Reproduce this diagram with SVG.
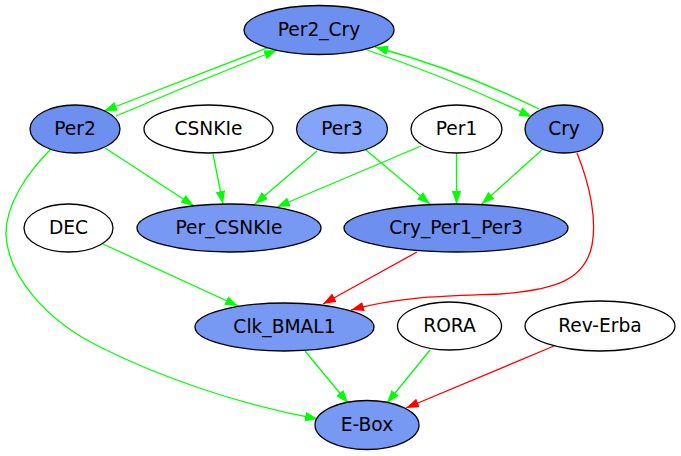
<svg xmlns="http://www.w3.org/2000/svg" width="681" height="456" viewBox="0 0 681 456">
<style>
.n ellipse{stroke:#000;stroke-width:1.3}
.w{fill:#fff}
.d{fill:#6d8ff0}
.l{fill:#84a4f9}
.m{fill:#7799f4}
text{font-family:"DejaVu Sans","Liberation Sans",sans-serif;font-size:18.67px;text-anchor:middle;fill:#000}
.g{stroke:#00ff00;stroke-width:1.3;fill:none}
.r{stroke:#ff0000;stroke-width:1.3;fill:none}
.g{marker-end:url(#ag)}
.r{marker-end:url(#ar)}
</style>
<defs>
<marker id="ag" markerUnits="userSpaceOnUse" markerWidth="14" markerHeight="10" refX="13" refY="4.7" orient="auto" viewBox="0 0 14 10">
<path d="M0,0 L13,4.7 L0,9.4 Z" fill="#00ff00"/>
</marker>
<marker id="ar" markerUnits="userSpaceOnUse" markerWidth="14" markerHeight="10" refX="13" refY="4.7" orient="auto" viewBox="0 0 14 10">
<path d="M0,0 L13,4.7 L0,9.4 Z" fill="#ff0000"/>
</marker>
</defs>
<rect width="681" height="456" fill="#fff"/>
<g id="edges">
<path class="g" d="M267,48 Q185,80 104,111"/>
<path class="g" d="M116,116 Q196,82 277,50"/>
<path class="g" d="M367,50 Q450,78 532,117"/>
<path class="g" d="M539,109 Q460,70 375,47"/>
<path class="g" d="M105,148 L194,206"/>
<path class="g" d="M213,154 L223,204"/>
<path class="g" d="M317,151 L255,204"/>
<path class="g" d="M421,146 L277,207"/>
<path class="g" d="M366,150 L430,204"/>
<path class="g" d="M456.5,153 L456.5,204"/>
<path class="g" d="M541.7,150 L481.7,204"/>
<path class="r" d="M577,153 C590,185 597,220 592,245 C585,280 555,290 500,294 C450,296 400,296 351,310"/>
<path class="r" d="M417,252 L323,304"/>
<path class="g" d="M103,244 L238,306"/>
<path class="g" d="M50,150 C28,172 5,205 6,235 C8,275 45,320 100,347 C160,377 240,405 318,419"/>
<path class="g" d="M305,351 L348,403"/>
<path class="g" d="M430,350 L387,403"/>
<path class="r" d="M554,346 L406,408"/>
</g>
<g id="Per2_Cry" class="n"><ellipse class="d" cx="319" cy="30" rx="75" ry="24.5"/><text x="319" y="36">Per2_Cry</text></g>
<g id="Per2" class="n"><ellipse class="d" cx="75" cy="129" rx="45" ry="24"/><text x="75" y="135">Per2</text></g>
<g id="CSNKIe" class="n"><ellipse class="w" cx="208.5" cy="129" rx="64.5" ry="24"/><text x="208.5" y="135">CSNKIe</text></g>
<g id="Per3" class="n"><ellipse class="l" cx="342" cy="129" rx="45.5" ry="24"/><text x="342" y="135">Per3</text></g>
<g id="Per1" class="n"><ellipse class="w" cx="456.5" cy="129" rx="45.5" ry="24"/><text x="456.5" y="135">Per1</text></g>
<g id="Cry" class="n"><ellipse class="d" cx="564" cy="129" rx="39" ry="24"/><text x="564" y="135">Cry</text></g>
<g id="DEC" class="n"><ellipse class="w" cx="68.5" cy="228" rx="44.5" ry="24"/><text x="68.5" y="234">DEC</text></g>
<g id="Per_CSNKIe" class="n"><ellipse class="m" cx="229" cy="228" rx="92" ry="24"/><text x="229" y="234">Per_CSNKIe</text></g>
<g id="Cry_Per1_Per3" class="n"><ellipse class="d" cx="456" cy="228" rx="112" ry="24"/><text x="456" y="234">Cry_Per1_Per3</text></g>
<g id="Clk_BMAL1" class="n"><ellipse class="m" cx="284.5" cy="327" rx="89.5" ry="24"/><text x="284.5" y="333">Clk_BMAL1</text></g>
<g id="RORA" class="n"><ellipse class="w" cx="449.5" cy="326" rx="52" ry="24"/><text x="449.5" y="332">RORA</text></g>
<g id="Rev-Erba" class="n"><ellipse class="w" cx="600" cy="326" rx="75" ry="25"/><text x="600" y="332">Rev-Erba</text></g>
<g id="E-Box" class="n"><ellipse class="m" cx="367" cy="425" rx="52" ry="24.5"/><text x="367" y="431">E-Box</text></g>
</svg>
